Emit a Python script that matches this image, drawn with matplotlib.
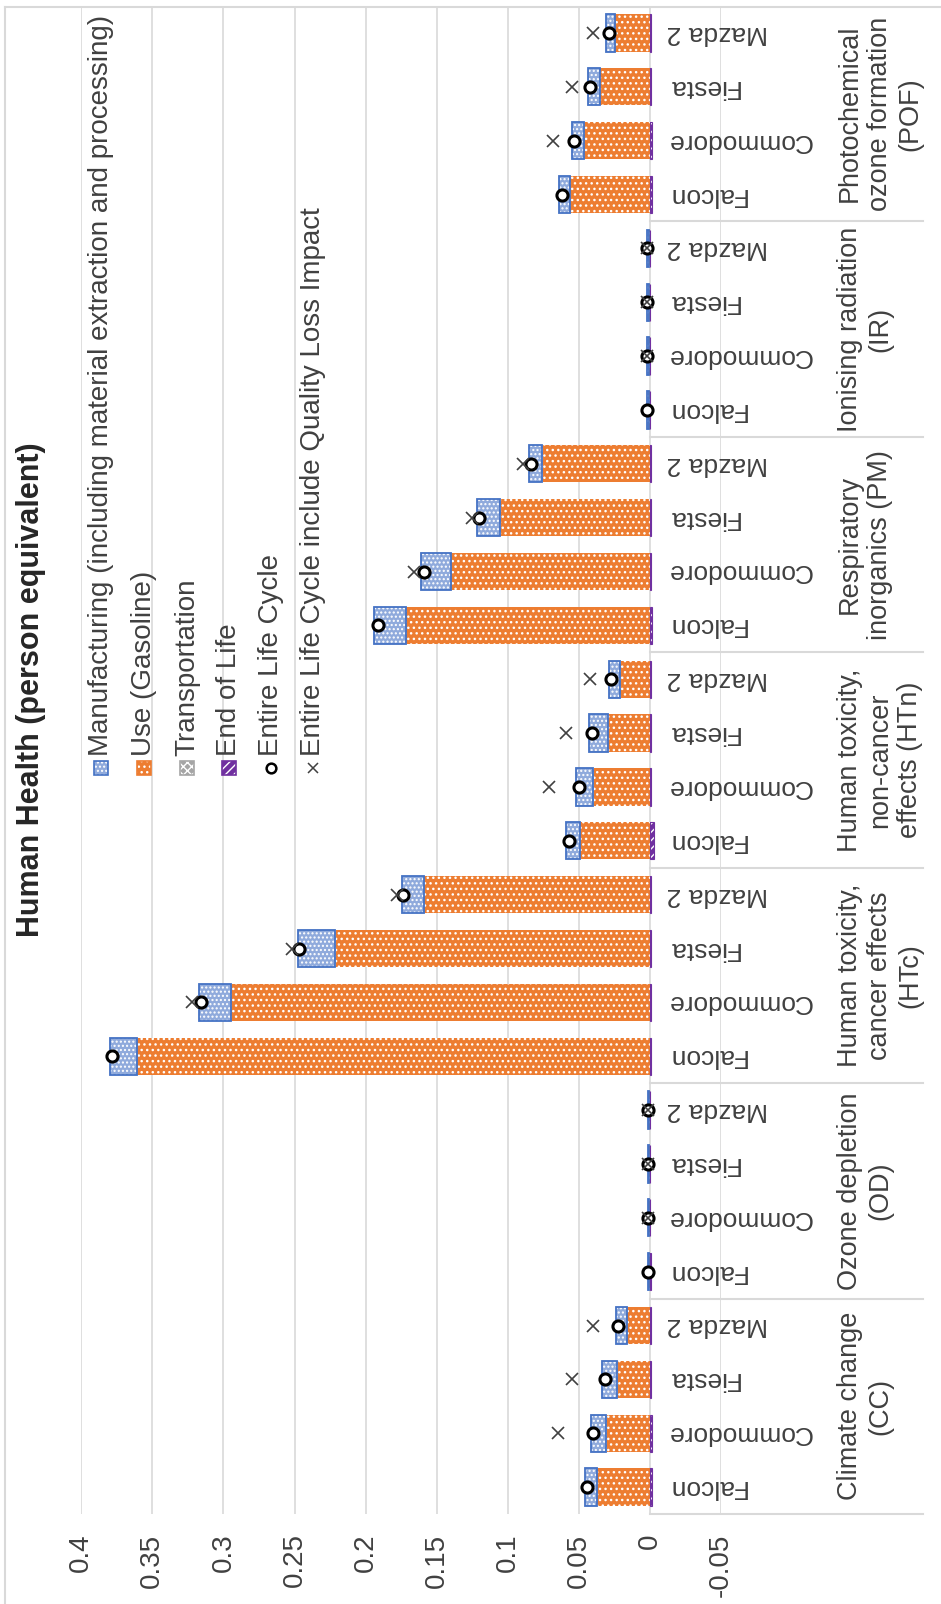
import numpy as np
import matplotlib
matplotlib.use('Agg')
import matplotlib.pyplot as plt
from matplotlib import transforms
from matplotlib.patches import Rectangle
from matplotlib.lines import Line2D

plt.rcParams['font.family'] = ['Liberation Sans', 'DejaVu Sans']
plt.rcParams['hatch.linewidth'] = 1.0

nan = np.nan

categories = ["Climate change\n(CC)", "Ozone depletion\n(OD)",
              "Human toxicity,\ncancer effects\n(HTc)",
              "Human toxicity,\nnon-cancer\neffects (HTn)",
              "Respiratory\ninorganics (PM)", "Ionising radiation\n(IR)",
              "Photochemical\nozone formation\n(POF)"]
cars = ["Falcon", "Commodore", "Fiesta", "Mazda 2"]

manufacturing = [
    [0.0087, 0.0105, 0.0106, 0.0079],
    [0.0008, 0.0008, 0.0008, 0.0008],
    [0.0188, 0.0224, 0.0259, 0.0154],
    [0.0100, 0.0119, 0.0132, 0.0081],
    [0.0223, 0.0206, 0.0164, 0.0094],
    [0.0015, 0.0015, 0.0015, 0.0015],
    [0.0075, 0.0086, 0.0082, 0.0059],
]
use_gasoline = [
    [0.0370, 0.0305, 0.0227, 0.0160],
    [0.0004, 0.0004, 0.0004, 0.0004],
    [0.3607, 0.2948, 0.2211, 0.1590],
    [0.0490, 0.0397, 0.0293, 0.0207],
    [0.1716, 0.1400, 0.1050, 0.0755],
    [0.0004, 0.0004, 0.0004, 0.0004],
    [0.0563, 0.0464, 0.0352, 0.0246],
]
transportation = [
    [0.0002, 0.0002, 0.0002, 0.0002],
    [0.0000, 0.0000, 0.0000, 0.0000],
    [0.0002, 0.0002, 0.0002, 0.0002],
    [0.0002, 0.0002, 0.0002, 0.0002],
    [0.0002, 0.0002, 0.0002, 0.0002],
    [0.0000, 0.0000, 0.0000, 0.0000],
    [0.0002, 0.0002, 0.0002, 0.0002],
]
end_of_life = [
    [-0.0015, -0.0015, -0.0007, -0.0007],
    [-0.0005, -0.0002, -0.0002, -0.0002],
    [-0.0008, -0.0006, -0.0005, -0.0005],
    [-0.0030, -0.0010, -0.0008, -0.0006],
    [-0.0012, -0.0008, -0.0006, -0.0005],
    [-0.0003, -0.0002, -0.0002, -0.0002],
    [-0.0015, -0.0015, -0.0008, -0.0006],
]
entire_life_cycle = [
    [0.0445, 0.0400, 0.0316, 0.0223],
    [0.0012, 0.0012, 0.0012, 0.0012],
    [0.3784, 0.3160, 0.2465, 0.1735],
    [0.0570, 0.0497, 0.0410, 0.0274],
    [0.1915, 0.1590, 0.1200, 0.0837],
    [0.0018, 0.0018, 0.0018, 0.0018],
    [0.0621, 0.0532, 0.0422, 0.0288],
]
quality_loss = [
    [nan, 0.0650, 0.0550, 0.0400],
    [nan, 0.0012, 0.0012, 0.0012],
    [nan, 0.3223, 0.2517, 0.1780],
    [nan, 0.0710, 0.0588, 0.0420],
    [nan, 0.1660, 0.1254, 0.0890],
    [nan, 0.0018, 0.0018, 0.0018],
    [nan, 0.0684, 0.0546, 0.0403],
]
xticks = [0.4, 0.35, 0.3, 0.25, 0.2, 0.15, 0.1, 0.05, 0.0, -0.05]
xtick_labels = ["0.4", "0.35", "0.3", "0.25", "0.2", "0.15", "0.1", "0.05", "0", "-0.05"]
legend_labels = ["Manufacturing (including material extraction and processing)",
                 "Use (Gasoline)", "Transportation", "End of Life",
                 "Entire Life Cycle", "Entire Life Cycle include Quality Loss Impact"]
title = "Human Health (person equivalent)"

W, H = 941, 1604
TXT = '#404040'
GRID = '#D9D9D9'
BLUE_F, BLUE_E = '#8FAADC', '#4472C4'
ORANGE = '#ED7D31'
GRAY = '#A5A5A5'
PURPLE = '#7030A0'

def fx(px):
    return px / W

def fy(py):
    return 1 - py / H

fig = plt.figure(figsize=(W / 100, H / 100), dpi=100)
ax_left, ax_right = 81.2, 721.1
ax_top, ax_bot = 6, 1514
ax = fig.add_axes([fx(ax_left), fy(ax_bot), (ax_right - ax_left) / W, (ax_bot - ax_top) / H])

ncat, ncar = len(categories), len(cars)
ypos = np.array([g * ncar + c + 0.5 for g in range(ncat) for c in range(ncar)])
manu = np.array(manufacturing).ravel()
use = np.array(use_gasoline).ravel()
tr = np.array(transportation).ravel()
eol = np.array(end_of_life).ravel()
elc = np.array(entire_life_cycle).ravel()
ql = np.array(quality_loss).ravel()

h = 0.69
ax.barh(ypos, use, left=0, height=h, color=ORANGE, edgecolor='white', linewidth=0, hatch='...', zorder=2)
ax.barh(ypos, tr, left=use, height=h, color=GRAY, edgecolor='white', linewidth=0, hatch='xxxx', zorder=2)
ax.barh(ypos, manu, left=use + tr, height=h, color=BLUE_F, edgecolor='white', linewidth=0, hatch='....', zorder=2)
ax.barh(ypos, manu, left=use + tr, height=h, fill=False, edgecolor=BLUE_E, linewidth=1.3, zorder=3)
ax.barh(ypos, eol, left=0, height=h, color=PURPLE, edgecolor='white', linewidth=0, hatch='////', zorder=2)
ax.barh(ypos, eol, left=0, height=h, fill=False, edgecolor=PURPLE, linewidth=0.8, zorder=3)

ax.plot(elc, ypos, ls='none', marker='o', ms=8, mfc='white', mec='black', mew=2.2, zorder=5)
ax.plot(ql, ypos, ls='none', marker='x', ms=8, mec=TXT, mew=1.2, zorder=6)

ax.set_xlim(0.4, -0.05)
ax.set_ylim(0, ncat * ncar)
ax.set_xticks(xticks)
ax.set_xticklabels(xtick_labels, rotation=90, fontsize=20, color=TXT)
ax.tick_params(axis='x', length=0, pad=14)
ax.set_yticks([])
for s in ax.spines.values():
    s.set_visible(False)
ax.grid(axis='x', color=GRID, lw=1.2)
ax.set_axisbelow(True)

trans = transforms.blended_transform_factory(fig.transFigure, ax.transData)
for b in range(0, ncat * ncar, ncar):
    ax.plot([fx(650), fx(923)], [b, b], color=GRID, lw=1.5, transform=trans, clip_on=False, zorder=1)

for g in range(ncat):
    for c in range(ncar):
        ax.text(fx(667), g * ncar + c + 0.5, cars[c], transform=trans, rotation=180,
                ha='left', va='center', fontsize=19, color=TXT)
    ax.text(fx(837), g * ncar + ncar / 2, categories[g], transform=trans, rotation=90,
            ha='left', va='center', multialignment='center', fontsize=19.5, color=TXT)

# legend (drawn rotated)
lx = [101, 144, 187, 229, 271, 313]
ly_text, ly_mark = 756, 768
for i, lab in enumerate(legend_labels):
    fig.text(fx(lx[i]), fy(ly_text), lab, rotation=90, ha='center', va='bottom', fontsize=20, color=TXT)
styles = [(BLUE_F, BLUE_E, '....'), (ORANGE, ORANGE, '...'), (GRAY, GRAY, 'xxxx'), (PURPLE, PURPLE, '////')]
s = 14
for i, (fc, ec, ht) in enumerate(styles):
    xy = (fx(lx[i] - s / 2), fy(ly_mark + s / 2))
    fig.add_artist(Rectangle(xy, s / W, s / H, transform=fig.transFigure, facecolor=fc,
                             edgecolor='white', linewidth=0, hatch=ht))
    fig.add_artist(Rectangle(xy, s / W, s / H, transform=fig.transFigure, fill=False,
                             edgecolor=ec, linewidth=1.2))
fig.add_artist(Line2D([fx(lx[4])], [fy(ly_mark)], transform=fig.transFigure, ls='none', marker='o',
                      ms=7, mfc='white', mec='black', mew=1.8))
fig.add_artist(Line2D([fx(lx[5])], [fy(ly_mark)], transform=fig.transFigure, ls='none', marker='x',
                      ms=7, mec=TXT, mew=1.1))

fig.text(fx(31), fy(690), title, rotation=90, ha='center', va='center', fontsize=22,
         fontweight='bold', color='#262626')

# chart border
fig.add_artist(Line2D([fx(5), fx(941)], [fy(7), fy(7)], transform=fig.transFigure, color=GRID, lw=1.5))
fig.add_artist(Line2D([fx(5), fx(5)], [fy(7), fy(1604)], transform=fig.transFigure, color=GRID, lw=1.5))

fig.savefig('out.png', dpi=100, facecolor='white')
